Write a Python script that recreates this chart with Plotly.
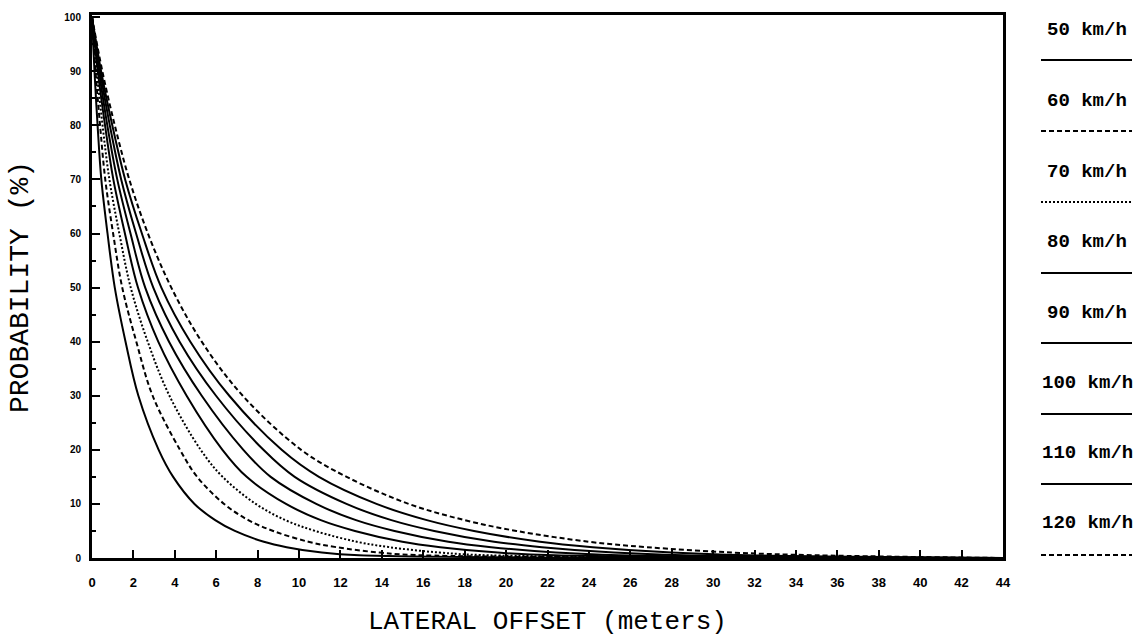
import plotly.graph_objects as go

# ---- data ----
speeds = ["50 km/h", "60 km/h", "70 km/h", "80 km/h", "90 km/h", "100 km/h", "110 km/h", "120 km/h"]
prob_levels = [100, 90, 80, 70, 60, 50, 40, 30, 20, 15, 10, 7, 5, 3, 2, 1, 0.5, 0]
offset_50 = [0, .12, .27, .45, .75, 1.10, 1.62, 2.24, 3.22, 3.92, 4.95, 5.95, 6.90, 8.30, 9.40, 11.1, 12.9, 44]
offset_60 = [0, .17, .39, .64, 1.02, 1.46, 2.14, 2.93, 4.25, 5.08, 6.38, 7.55, 8.75, 10.45, 11.80, 13.9, 16.0, 44]
offset_70 = [0, .23, .51, .84, 1.32, 1.87, 2.69, 3.74, 5.25, 6.31, 7.91, 9.34, 10.78, 12.79, 14.37, 16.8, 19.2, 44]
offset_80 = [0, .28, .63, 1.03, 1.59, 2.22, 3.20, 4.57, 6.30, 7.47, 9.37, 11.05, 12.70, 14.99, 16.82, 19.6, 22.35, 44]
offset_90 = [0, .34, .74, 1.22, 1.86, 2.57, 3.72, 5.30, 7.31, 8.63, 10.83, 12.75, 14.61, 17.21, 19.28, 22.4, 25.45, 44]
offset_100 = [0, .39, .86, 1.41, 2.13, 2.96, 4.23, 5.99, 8.28, 9.79, 12.29, 14.46, 16.53, 19.42, 21.73, 25.2, 28.6, 44]
offset_110 = [0, .44, .98, 1.60, 2.41, 3.35, 4.75, 6.63, 9.16, 10.96, 13.74, 16.17, 18.45, 21.64, 24.18, 28.0, 31.7, 44]
offset_120 = [0, .50, 1.10, 1.80, 2.70, 3.83, 5.30, 7.28, 10.10, 12.3, 15.3, 18.0, 20.5, 24.0, 26.8, 31.0, 35.0, 44]
offsets = [offset_50, offset_60, offset_70, offset_80, offset_90, offset_100, offset_110, offset_120]

x_ticks = list(range(0, 45, 2))
y_ticks = list(range(0, 101, 10))

# ---- styles ----
dashes = ["solid", "5px,3px", "2px,2px", "solid", "solid", "solid", "solid", "5px,3px"]
W, H = 1138, 637
L, R, T, B = 92, 135, 15, 79
pw, ph = W - L - R, H - T - B

fig = go.Figure()
for name, xs, d in zip(speeds, offsets, dashes):
    fig.add_trace(go.Scatter(
        x=xs, y=prob_levels, mode="lines", name=name,
        line=dict(color="black", width=2, dash=d, shape="spline", smoothing=1.0),
        showlegend=False,
    ))

def px_x(p):
    return (p - L) / pw

def px_y(p):
    return (H - B - p) / ph

legend_text_y = [30, 101, 172, 242, 313, 383, 453, 523]
legend_line_y = [60, 131, 202, 273, 343, 414, 484, 555]
annotations = []
shapes = []
for name, ty, ly, d in zip(speeds, legend_text_y, legend_line_y, dashes):
    annotations.append(dict(
        x=px_x(1087), y=px_y(ty), xref="paper", yref="paper", text=name,
        showarrow=False, xanchor="center", yanchor="middle",
        font=dict(family="Liberation Mono", size=19, color="black", weight="bold"),
    ))
    shapes.append(dict(
        type="line", xref="paper", yref="paper",
        x0=px_x(1041), x1=px_x(1132), y0=px_y(ly), y1=px_y(ly),
        line=dict(color="black", width=2, dash=d),
    ))

annotations.append(dict(
    x=0.5, y=px_y(622), xref="paper", yref="paper", text="LATERAL OFFSET (meters)",
    showarrow=False, xanchor="center", yanchor="middle",
    font=dict(family="Liberation Mono", size=26, color="black"),
))
annotations.append(dict(
    x=px_x(20), y=px_y(287), xref="paper", yref="paper", text="PROBABILITY (%)",
    showarrow=False, xanchor="center", yanchor="middle", textangle=-90,
    font=dict(family="Liberation Mono", size=28, color="black"),
))

fig.update_layout(
    width=W, height=H,
    margin=dict(l=L, r=R, t=T, b=B),
    paper_bgcolor="white", plot_bgcolor="white",
    annotations=annotations, shapes=shapes,
)
fig.update_xaxes(
    range=[0, 44], tickvals=x_ticks, ticktext=[str(v) for v in x_ticks],
    ticks="inside", ticklen=8, tickwidth=2, tickcolor="black",
    showline=True, linewidth=3, linecolor="black", mirror=True,
    showgrid=False, zeroline=False, ticklabelstandoff=10,
    tickfont=dict(family="Liberation Sans", size=13, color="black", weight="bold"),
)
fig.update_yaxes(
    range=[0, 100.4], tickvals=y_ticks, ticktext=[str(v) for v in y_ticks],
    ticks="inside", ticklen=8, tickwidth=2, tickcolor="black",
    minor=dict(dtick=5, tick0=0, ticks="inside", ticklen=4, tickwidth=1.5, tickcolor="black"),
    showline=True, linewidth=3, linecolor="black", mirror=True,
    showgrid=False, zeroline=False, ticklabelstandoff=6,
    tickfont=dict(family="Liberation Sans", size=10, color="black", weight="bold"),
)

fig.write_html("out.html", config={"displayModeBar": False},
               post_script="document.body.style.margin='0px';")
